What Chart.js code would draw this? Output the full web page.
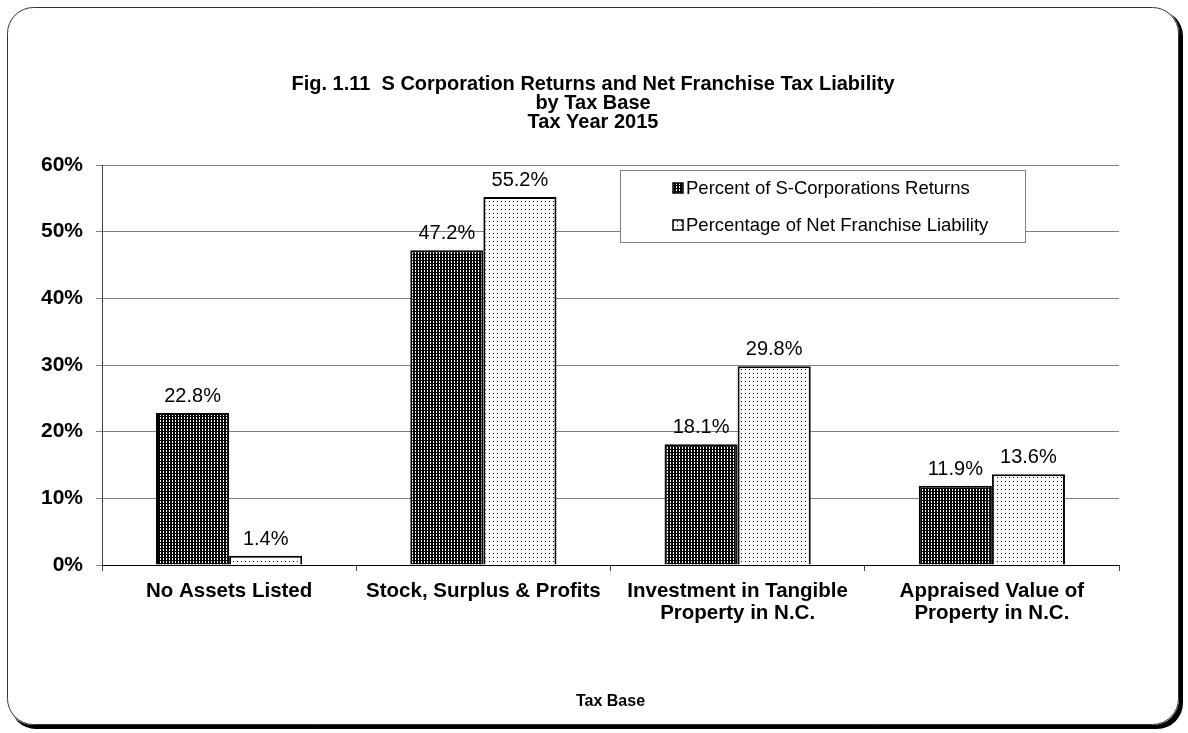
<!DOCTYPE html>
<html>
<head>
<meta charset="utf-8">
<title>S Corporation Returns and Net Franchise Tax Liability</title>
<script src="https://cdn.jsdelivr.net/npm/chart.js@4.4.0/dist/chart.umd.min.js"></script>
<style>
    html, body { margin: 0; padding: 0; background: #fff; }
    #wrap { width: 1188px; height: 733px; position: relative; }
</style>
</head>
<body>
<div id="wrap"><canvas id="taxChart"></canvas></div>
<script>
const categories = [
    'No Assets Listed',
    'Stock, Surplus & Profits',
    ['Investment in Tangible', 'Property in N.C.'],
    ['Appraised Value of', 'Property in N.C.']
];
const returnsPct = [22.8, 47.2, 18.1, 11.9];
const liabilityPct = [1.4, 55.2, 29.8, 13.6];
const yTicks = [0, 10, 20, 30, 40, 50, 60];
const titleLines = [
    'Fig. 1.11  S Corporation Returns and Net Franchise Tax Liability',
    'by Tax Base',
    'Tax Year 2015'
];

const FONT = '"Liberation Sans", Arial, sans-serif';

// small tiled fills for the two bar series
function makePattern(size, bg, fg, dots) {
    const c = document.createElement('canvas');
    c.width = size;
    c.height = size;
    const g = c.getContext('2d');
    g.fillStyle = bg;
    g.fillRect(0, 0, size, size);
    g.fillStyle = fg;
    dots.forEach(d => g.fillRect(d[0], d[1], d[2], d[3]));
    return g.createPattern(c, 'repeat');
}

const darkFill = makePattern(3, '#000', '#fff', [[1, 0, 1, 2]]);
const lightFill = makePattern(4, '#fff', '#000', [[1, 1, 1, 1]]);

function roundRect(ctx, x, y, w, h, r) {
    ctx.beginPath();
    ctx.moveTo(x + r, y);
    ctx.lineTo(x + w - r, y);
    ctx.arcTo(x + w, y, x + w, y + r, r);
    ctx.lineTo(x + w, y + h - r);
    ctx.arcTo(x + w, y + h, x + w - r, y + h, r);
    ctx.lineTo(x + r, y + h);
    ctx.arcTo(x, y + h, x, y + h - r, r);
    ctx.lineTo(x, y + r);
    ctx.arcTo(x, y, x + r, y, r);
    ctx.closePath();
}

// rounded outer frame with a dark drop edge, plus the centred heading
const framePlugin = {
    id: 'frame',
    beforeDraw(chart) {
        const ctx = chart.ctx;
        ctx.save();
        ctx.fillStyle = '#000';
        roundRect(ctx, 10, 10, 1173, 719, 26);
        ctx.fill();
        ctx.fillStyle = '#fff';
        roundRect(ctx, 7, 7, 1172, 718, 26);
        ctx.fill();
        ctx.strokeStyle = '#333';
        ctx.lineWidth = 1;
        roundRect(ctx, 7.5, 7.5, 1171, 717, 26);
        ctx.stroke();

        ctx.font = 'bold 20px ' + FONT;
        ctx.fillStyle = '#000';
        ctx.textAlign = 'center';
        ctx.textBaseline = 'middle';
        titleLines.forEach((line, i) => {
            ctx.fillText(line, 593, 84 + i * 19);
        });
        ctx.restore();
    }
};

// percentage text above each bar
const valueLabels = {
    id: 'valueLabels',
    afterDatasetsDraw(chart) {
        const ctx = chart.ctx;
        ctx.save();
        ctx.font = '20px ' + FONT;
        ctx.fillStyle = '#000';
        ctx.textAlign = 'center';
        ctx.textBaseline = 'alphabetic';
        chart.data.datasets.forEach((ds, i) => {
            chart.getDatasetMeta(i).data.forEach((bar, j) => {
                ctx.fillText(ds.data[j].toFixed(1) + '%', bar.x, bar.y - 11);
            });
        });
        ctx.restore();
    }
};

// boxed legend inside the plot area
const boxLegend = {
    id: 'boxLegend',
    afterDraw(chart) {
        const ctx = chart.ctx;
        const x = 620, y = 170, w = 405, h = 72;
        ctx.save();
        ctx.fillStyle = '#fff';
        ctx.fillRect(x, y, w, h);
        ctx.strokeStyle = '#808080';
        ctx.lineWidth = 1;
        ctx.strokeRect(x + 0.5, y + 0.5, w, h);
        ctx.font = '18.5px ' + FONT;
        ctx.textBaseline = 'middle';
        ctx.textAlign = 'left';
        chart.data.datasets.forEach((ds, i) => {
            const cy = y + 18 + i * 37;
            ctx.fillStyle = ds.backgroundColor;
            ctx.fillRect(x + 53, cy - 5, 10, 10);
            ctx.strokeStyle = '#000';
            ctx.lineWidth = 1.5;
            ctx.strokeRect(x + 53, cy - 5, 10, 10);
            ctx.fillStyle = '#000';
            ctx.fillText(ds.label, x + 66, cy + 1);
        });
        ctx.restore();
    }
};

new Chart(document.getElementById('taxChart'), {
    type: 'bar',
    data: {
        labels: categories,
        datasets: [
            {
                label: 'Percent of S-Corporations Returns',
                data: returnsPct,
                backgroundColor: darkFill,
                borderColor: '#000',
                borderWidth: 2,
                borderSkipped: 'bottom'
            },
            {
                label: 'Percentage of Net Franchise Liability',
                data: liabilityPct,
                backgroundColor: lightFill,
                borderColor: '#000',
                borderWidth: 2,
                borderSkipped: 'bottom'
            }
        ]
    },
    options: {
        responsive: true,
        maintainAspectRatio: false,
        animation: false,
        categoryPercentage: 0.575,
        barPercentage: 1.0,
        layout: {
            padding: { left: 30, right: 69, top: 165, bottom: 18 }
        },
        plugins: {
            legend: { display: false },
            tooltip: { enabled: false },
            title: { display: false }
        },
        scales: {
            y: {
                min: 0,
                max: 60,
                afterBuildTicks(scale) {
                    scale.ticks = yTicks.map(v => ({ value: v }));
                },
                afterFit(scale) {
                    scale.width = 72;
                },
                grid: {
                    color: '#808080',
                    lineWidth: 1,
                    tickLength: 6
                },
                border: { color: '#404040', width: 1 },
                ticks: {
                    color: '#000',
                    padding: 13,
                    font: { family: FONT, size: 21, weight: 'bold' },
                    callback: v => v + '%'
                }
            },
            x: {
                grid: {
                    drawOnChartArea: false,
                    color: '#404040',
                    tickLength: 6
                },
                border: { color: '#000', width: 1 },
                ticks: {
                    color: '#000',
                    padding: 9,
                    maxRotation: 0,
                    autoSkip: false,
                    font: { family: FONT, size: 20.5, weight: 'bold', lineHeight: 1.08 }
                },
                title: {
                    display: true,
                    text: 'Tax Base',
                    color: '#000',
                    font: { family: FONT, size: 16, weight: 'bold' },
                    padding: { top: 4, bottom: 4 }
                },
                afterFit(scale) {
                    scale.height = 150;
                }
            }
        }
    },
    plugins: [framePlugin, valueLabels, boxLegend]
});
</script>
</body>
</html>
